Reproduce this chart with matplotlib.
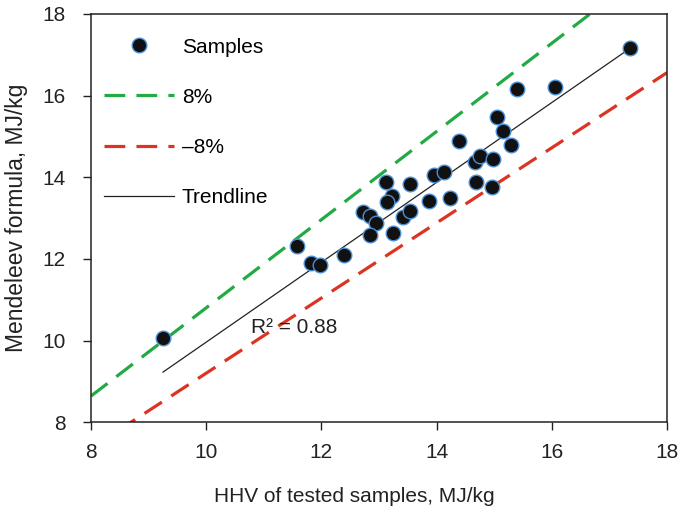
import numpy as np
import matplotlib
matplotlib.use("Agg")
import matplotlib.pyplot as plt

plt.rcParams['font.family'] = ['Liberation Sans', 'DejaVu Sans']

# HHV measured vs. Mendeleev formula estimate, MJ/kg
hhv_tested = [9.25, 11.58, 11.82, 11.97, 12.40, 12.73, 12.84, 12.95, 12.84, 13.12,
              13.23, 13.14, 13.25, 13.42, 13.53, 13.53, 13.86, 13.95, 14.12, 14.23,
              14.39, 14.68, 14.66, 14.75, 14.98, 14.96, 15.04, 15.15, 15.29, 15.40,
              16.06, 17.36]
hhv_mendeleev = [10.05, 12.32, 11.90, 11.86, 12.09, 13.14, 13.04, 12.88, 12.59, 13.87,
                 13.55, 13.39, 12.63, 13.02, 13.18, 13.83, 13.41, 14.05, 14.13, 13.50,
                 14.88, 13.87, 14.36, 14.52, 14.45, 13.76, 15.48, 15.12, 14.78, 16.15,
                 16.22, 17.16]

trend_slope = 0.978
trend_intercept = 0.18
r2_text = "R\u00b2 = 0.88"
band = 0.08

fs = 15

fig = plt.figure(figsize=(6.8, 5.13), dpi=100)
ax = fig.add_axes([0.1338, 0.177, 0.8471, 0.796])

ax.plot(hhv_tested, hhv_mendeleev, 'o', color='#111111', markersize=10.5,
        markeredgecolor='#4a8fd6', markeredgewidth=1.0, label='Samples', zorder=4)

xx = np.array([8, 18])
ax.plot(xx, (1 + band) * xx, color='#22aa44', lw=2.3, dashes=(6.5, 3.5), label='8%', zorder=2)
ax.plot(xx, (1 - band) * xx, color='#dd3322', lw=2.3, dashes=(6.5, 3.5), label='\u20138%', zorder=2)

tx = np.array([min(hhv_tested), max(hhv_tested)])
ax.plot(tx, trend_slope * tx + trend_intercept, color='#222222', lw=0.9,
        label='Trendline', zorder=3)

ax.text(10.77, 10.32, r2_text, fontsize=fs, ha='left', va='center', color='#222222')

ax.set_xlim(8, 18)
ax.set_ylim(8, 18)
ax.set_xticks(range(8, 19, 2))
ax.set_yticks(range(8, 19, 2))
ax.tick_params(direction='out', length=6, width=1, labelsize=fs, colors='#222222')
ax.tick_params(axis='x', pad=9)
ax.tick_params(axis='y', pad=12)
for s in ax.spines.values():
    s.set_linewidth(1.1)
    s.set_color('#222222')

ax.set_xlabel('HHV of tested samples, MJ/kg', fontsize=fs, color='#222222')
ax.xaxis.set_label_coords(0.458, -0.158)
ax.set_ylabel('Mendeleev formula, MJ/kg', fontsize=16.5, color='#222222')
ax.yaxis.set_label_coords(-0.11, 0.5)

ax.legend(loc='upper left', bbox_to_anchor=(0.022, 0.942), borderaxespad=0, borderpad=0,
          frameon=False, fontsize=fs, numpoints=1, handlelength=3.37,
          handletextpad=0.38, labelspacing=1.5)

fig.savefig('out.png', dpi=100)
